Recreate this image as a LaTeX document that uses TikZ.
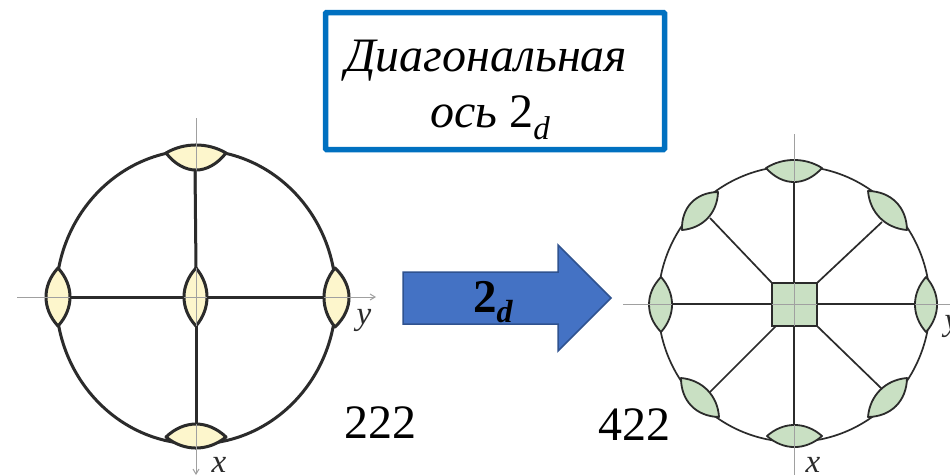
\documentclass[tikz,border=0pt]{standalone}
\usepackage{fontspec}
\setmainfont{Liberation Serif}
\usetikzlibrary{arrows.meta,calc}
\definecolor{ink}{HTML}{2B2B2B}
\definecolor{axisgray}{HTML}{A0A0A0}
\definecolor{lensyellow}{HTML}{FDF6CC}
\definecolor{lensgreen}{HTML}{C9E0C3}
\definecolor{boxblue}{HTML}{0070C0}
\definecolor{arrowfill}{HTML}{4472C4}
\definecolor{arrowedge}{HTML}{2F528F}
\tikzset{
  ax/.style={draw=axisgray,line width=1pt,-{Straight Barb[length=5pt,width=6pt]}},
  axv/.style={draw=axisgray,line width=1pt},
  thickblack/.style={draw=ink,line width=3pt},
  thinblack/.style={draw=ink,line width=1.7pt},
  ylens/.style={draw=ink,line width=3pt,fill=lensyellow,line join=round},
  glens/.style={draw=ink,line width=1.8pt,fill=lensgreen,line join=round},
  axlabel/.style={font=\fontsize{33}{35}\selectfont\itshape,anchor=base,inner sep=0pt,text=ink},
  pointgroup/.style={font=\fontsize{48}{50}\selectfont,anchor=base west,inner sep=0pt},
  titletext/.style={font=\fontsize{48}{50}\selectfont,anchor=base west,inner sep=0pt}
}
% style, first end, second end, control offset on the A-B side, control offset on the B-A side (in pt)
\newcommand{\lensat}[5]{\path[#1] #2
  .. controls ($#2!.3!#3!#4pt!90:#3$) and ($#2!.7!#3!#4pt!90:#3$) .. #3
  .. controls ($#3!.3!#2!#5pt!90:#2$) and ($#3!.7!#2!#5pt!90:#2$) .. #2 -- cycle;}
\begin{document}
\begin{tikzpicture}[x=1pt,y=-1pt]
\useasboundingbox (0,0) rectangle (950,475);
\fill[white] (0,0) rectangle (950,475);

% left diagram
\coordinate (lc) at (196,297);
\coordinate (lt) at (195,170);
\coordinate (lb) at (196,424);
\coordinate (ll) at (70,297);
\coordinate (lr) at (324,297);
\coordinate (lct) at (196,268);
\coordinate (lcb) at (196,326);
\coordinate (lcl) at (184,297);
\coordinate (lcr) at (207,297);
\draw[thickblack] (lc) ellipse [x radius=140,y radius=147];
\lensat{ylens}{(166,153)}{(226,153)}{10.7}{22.7}
\lensat{ylens}{(226,437)}{(166,437)}{14.7}{17.3}
\lensat{ylens}{(58,268)}{(58,326)}{16}{16}
\lensat{ylens}{(335,268)}{(335,327)}{18.7}{14.7}
\lensat{ylens}{(196,268)}{(196,326)}{14.7}{16}
\coordinate (lax1) at (196,118);
\coordinate (lax2) at (196,475);
\coordinate (lay1) at (17,297);
\coordinate (lay2) at (376,297);
\draw[ax] (lax1) -- (lax2);
\draw[ax] (lay1) -- (lay2);
\draw[thickblack] (lt) -- (lct);
\draw[thickblack] (lb) -- (lcb);
\draw[thickblack] (ll) -- (lcl);
\draw[thickblack] (lr) -- (lcr);
\node[axlabel] (lx) at (219,472) {x};
\node[axlabel] (ly) at (364,324) {y};
\node[pointgroup] (g222) at (344,438) {222};

% title box
\node[draw=boxblue,line width=5.5pt,rounded corners=1pt,minimum width=339pt,minimum height=137pt,inner sep=0pt] (title) at (495,81) {};
\node[titletext] (t1) at (345,71) {\itshape Диагональная};
\node[titletext] (t2) at (430,127) {\itshape ось\/ \upshape 2\raisebox{-12pt}{\fontsize{33}{35}\selectfont\itshape d}};

% block arrow
\path[draw=arrowedge,fill=arrowfill,line width=1.5pt,line join=miter]
  (403,272) -- (558,272) -- (558,245) -- (611,298) -- (558,351) -- (558,324) -- (403,324) -- cycle;
\node[font=\fontsize{47}{50}\selectfont\bfseries,anchor=base west,inner sep=0pt] (arrowlabel) at (473,312) {2\raisebox{-10pt}{\fontsize{32}{34}\selectfont\itshape d}};

% right diagram
\coordinate (rc) at (794,304);
\coordinate (rt) at (794,182);
\coordinate (rb) at (794,425);
\coordinate (rl) at (672,304);
\coordinate (rr) at (915,304);
\coordinate (rul) at (710,218);
\coordinate (rur) at (882,222);
\coordinate (rdl) at (710,392);
\coordinate (rdr) at (882,389);
\coordinate (sul) at (772,283);
\coordinate (sur) at (817,283);
\coordinate (sdl) at (776,326);
\coordinate (sdr) at (817,326);
\coordinate (st) at (794,283);
\coordinate (sb) at (794,326);
\coordinate (sl) at (772,304);
\coordinate (sr) at (817,304);
\draw[thinblack] (rc) ellipse [x radius=136,y radius=138];
\lensat{glens}{(766,168)}{(822,168)}{10.7}{18.7}
\lensat{glens}{(822,436)}{(767,436)}{14.7}{14.7}
\lensat{glens}{(661,277)}{(661,332)}{14.7}{16}
\lensat{glens}{(926,277)}{(926,332)}{14.7}{14.7}
\lensat{glens}{(718,192)}{(682,230)}{14}{16}
\lensat{glens}{(907,230)}{(868,191)}{14}{16}
\lensat{glens}{(681,378)}{(719,417)}{14}{16}
\lensat{glens}{(868,417)}{(907,378)}{14}{16}
\node[draw=ink,line width=1.8pt,fill=lensgreen,minimum width=45pt,minimum height=43pt,inner sep=0pt] (square) at (794.5,304.5) {};
\coordinate (rax1) at (794,134);
\coordinate (rax2) at (794,475);
\coordinate (ray1) at (623,304);
\coordinate (ray2) at (950,304);
\draw[axv] (rax1) -- (rax2);
\draw[axv] (ray1) -- (ray2);
\draw[thinblack] (rt) -- (st);
\draw[thinblack] (rb) -- (sb);
\draw[thinblack] (rl) -- (sl);
\draw[thinblack] (rr) -- (sr);
\draw[thinblack] (rul) -- (sul);
\draw[thinblack] (rur) -- (sur);
\draw[thinblack] (rdl) -- (sdl);
\draw[thinblack] (rdr) -- (sdr);
\node[axlabel] (rx) at (813,472) {x};
\node[axlabel] (ry) at (952,330) {y};
\node[pointgroup] (g422) at (598,440) {422};
\end{tikzpicture}
\end{document}
